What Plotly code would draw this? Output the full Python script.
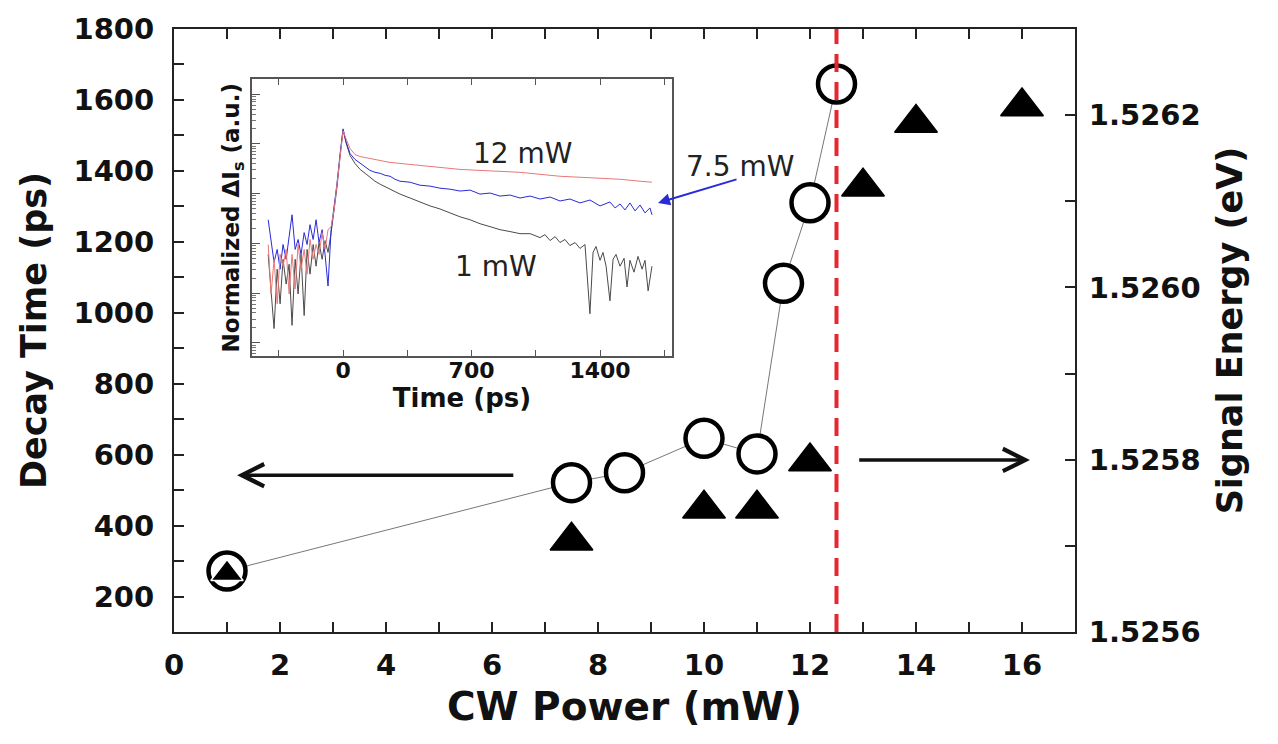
import plotly.graph_objects as go

# ---------------- main data ----------------
POWER_DECAY = [1, 7.5, 8.5, 10, 11, 11.5, 12, 12.5]            # mW
DECAY_TIME = [272, 521, 549, 646, 602, 1083, 1310, 1645]         # ps
POWER_ENERGY = [1, 7.5, 10, 11, 12, 13, 14, 16]                  # mW
SIGNAL_ENERGY = [1.525668, 1.525706, 1.525743, 1.525743,
                 1.525798, 1.526117, 1.526191, 1.526210]         # eV
THRESHOLD_MW = 12.5

X_TICKS = [0, 2, 4, 6, 8, 10, 12, 14, 16]
Y_TICKS = [200, 400, 600, 800, 1000, 1200, 1400, 1600, 1800]
Y2_TICKS = [1.5256, 1.5258, 1.5260, 1.5262]
Y2_TICKTEXT = ["1.5256", "1.5258", "1.5260", "1.5262"]

# ---------------- inset data (normalized ΔIs, a.u.) ----------------
T_PRE = [-408, -392, -376, -359, -343, -327, -310, -294, -278, -261, -245, -229, -212,
         -196, -180, -163, -147, -131, -114, -98, -82, -65, -49, -33, -16, 0]
RED_PRE = [9.51e-4, 9.65e-5, 4.79e-4, 6.10e-5, 6.01e-4, 3.48e-4, 7.57e-4, 9.65e-5, 6.01e-4,
           1.21e-4, 9.51e-4, 3.03e-4, 7.57e-4, 2.41e-4, 1.20e-3, 4.79e-4, 9.51e-4, 6.01e-4,
           1.65e-3, 7.57e-4, 1.89e-3, 2.17e-3, 4.72e-3, 1.48e-2, 5.85e-2, 0.184]
BLUE_PRE = [2.99e-3, 1.20e-3, 4.17e-4, 7.57e-4, 3.03e-4, 9.51e-4, 4.79e-4, 1.37e-3, 3.76e-3,
            7.57e-4, 1.20e-3, 6.01e-4, 1.65e-3, 9.51e-4, 2.38e-3, 1.20e-3, 2.99e-3, 1.04e-3,
            1.89e-3, 6.01e-4, 1.39e-4, 1.89e-3, 5.17e-3, 1.62e-2, 6.41e-2, 0.201]
BLACK_PRE = [6.01e-4, 9.65e-5, 1.94e-5, 3.03e-4, 6.10e-5, 4.79e-4, 1.52e-4, 3.81e-4, 2.25e-5,
             4.79e-4, 9.65e-5, 6.01e-4, 3.54e-5, 7.57e-4, 2.41e-4, 9.51e-4, 3.48e-4, 1.04e-3,
             4.79e-4, 1.14e-3, 6.59e-4, 1.65e-3, 4.51e-3, 1.35e-2, 5.85e-2, 0.192]

T_RED_POST = [16, 38, 65, 93, 147, 202, 256, 310, 419, 528, 637, 746, 855, 964, 1073,
              1182, 1291, 1400, 1509, 1618, 1683]
RED_POST = [0.1274, 0.0806, 0.0612, 0.0559, 0.0510, 0.0466, 0.0425, 0.0406, 0.0371, 0.0338,
            0.0308, 0.0294, 0.0281, 0.0269, 0.0245, 0.0224, 0.0214, 0.0204, 0.0195, 0.0178,
            0.0170]

T_BLUE_POST = [16, 38, 65, 93, 120, 147, 174, 202, 229, 256, 283, 310, 365, 419, 474, 528,
               583, 637, 692, 746, 801, 855, 910, 964, 1019, 1073, 1128, 1182, 1236, 1291,
               1345, 1400, 1454, 1482, 1509, 1536, 1563, 1591, 1618, 1645, 1672, 1683]
BLUE_POST = [0.1112, 0.0641, 0.0488, 0.0406, 0.0338, 0.0294, 0.0269, 0.0257, 0.0234, 0.0224,
             0.0195, 0.0178, 0.0170, 0.0148, 0.0142, 0.0129, 0.0123, 0.0113, 0.0118, 0.00982,
             0.0103, 0.00896, 0.00938, 0.00818, 0.00896, 0.00781, 0.00856, 0.00713, 0.00781,
             0.00651, 0.00746, 0.00567, 0.00681, 0.00517, 0.00621, 0.00472, 0.00651, 0.00451,
             0.00593, 0.00411, 0.00517, 0.00376]

T_BLACK_POST = [16, 38, 65, 93, 120, 147, 174, 202, 256, 310, 365, 419, 474, 528, 583, 637,
                692, 746, 801, 855, 910, 964, 1019, 1073, 1100, 1128, 1155, 1182, 1209, 1236,
                1264, 1291, 1318, 1345, 1362, 1378, 1400, 1416, 1433, 1454, 1471, 1487, 1509,
                1531, 1547, 1563, 1585, 1607, 1629, 1645, 1662, 1683]
BLACK_POST = [0.1057, 0.0585, 0.0406, 0.0308, 0.0257, 0.0214, 0.0178, 0.0155, 0.0123, 0.00982,
              0.00818, 0.00681, 0.00567, 0.00493, 0.00411, 0.00343, 0.00299, 0.00249, 0.00217,
              0.00189, 0.00173, 0.00157, 0.00157, 0.00131, 0.00150, 0.00114, 0.00137, 0.00104,
              0.00120, 0.000906, 0.00104, 0.000792, 0.000951, 3.86e-5, 0.000659, 0.000868,
              0.000457, 0.000659, 0.000348, 7.00e-5, 0.000479, 0.000601, 0.000348, 0.000502,
              0.000133, 0.000457, 0.000264, 0.000549, 0.000303, 0.000457, 0.000111, 0.000348]

INSET_X_TICKS = [-350, 0, 350, 700, 1050, 1400, 1750]
INSET_X_TICKTEXT = ["", "0", "", "700", "", "1400", ""]

# ---------------- styling ----------------
BOLD = dict(family="DejaVu Sans, Liberation Sans, sans-serif", weight="bold", color="#111")
AXCOL = "#222"

fig = go.Figure()

# decay time (circles, left axis)
fig.add_trace(go.Scatter(
    x=POWER_DECAY, y=DECAY_TIME, mode="lines+markers", xaxis="x", yaxis="y",
    line=dict(color="#777", width=1),
    marker=dict(symbol="circle", size=37, color="white", opacity=1,
                line=dict(color="black", width=4.5)),
    showlegend=False))

# signal energy (triangles, right axis)
fig.add_trace(go.Scatter(
    x=POWER_ENERGY, y=SIGNAL_ENERGY, mode="markers", xaxis="x", yaxis="y2",
    marker=dict(symbol="triangle-up", size=[28, 37, 37, 37, 37, 37, 37, 37], color="black",
                opacity=1, line=dict(color=["white"] + ["black"] * 7, width=1.5)),
    showlegend=False))

# inset curves
fig.add_trace(go.Scatter(x=T_PRE + T_BLACK_POST, y=BLACK_PRE + BLACK_POST, mode="lines",
                         xaxis="x3", yaxis="y3", line=dict(color="#4a4a4a", width=1),
                         showlegend=False))
fig.add_trace(go.Scatter(x=T_PRE + T_BLUE_POST, y=BLUE_PRE + BLUE_POST, mode="lines",
                         xaxis="x3", yaxis="y3", line=dict(color="#2a2ad8", width=1),
                         showlegend=False))
fig.add_trace(go.Scatter(x=T_PRE + T_RED_POST, y=RED_PRE + RED_POST, mode="lines",
                         xaxis="x3", yaxis="y3", line=dict(color="#e87878", width=1),
                         showlegend=False))

# threshold dashed line
fig.add_shape(type="line", xref="x", yref="paper", x0=THRESHOLD_MW, x1=THRESHOLD_MW,
              y0=0, y1=1, line=dict(color="#e8262e", width=4, dash="18px,10px"))

# arrows pointing to the axes
fig.add_annotation(xref="x", yref="y", axref="x", ayref="y", x=1.19, y=542, ax=6.43, ay=542,
                   text="", showarrow=True, arrowhead=5, arrowsize=1.25, arrowwidth=3.5,
                   arrowcolor="#111")
fig.add_annotation(xref="x", yref="y", axref="x", ayref="y", x=16.15, y=585, ax=12.9, ay=585,
                   text="", showarrow=True, arrowhead=5, arrowsize=1.25, arrowwidth=3.5,
                   arrowcolor="#111")

# inset labels
LBL = dict(family="DejaVu Sans, sans-serif", size=28, color="#222")
fig.add_annotation(xref="paper", yref="paper", x=0.3873, y=0.8240, text="12 mW",
                   showarrow=False, font=LBL)
fig.add_annotation(xref="paper", yref="paper", x=0.3097, y=0.6066, text="1 mW",
                   showarrow=False, font=LBL)
fig.add_annotation(xref="paper", yref="paper", x=0.5660, y=0.8020, text="7.5 mW",
                   showarrow=False, font=LBL, xanchor="left")
fig.add_annotation(xref="paper", yref="paper", x=0.5372, y=0.7115, ax=80, ay=-24, text="",
                   showarrow=True, arrowhead=2, arrowsize=1.2, arrowwidth=2,
                   arrowcolor="#2a2ad8")

fig.update_layout(
    width=1278, height=744,
    margin=dict(l=174, r=203, t=22, b=112),
    paper_bgcolor="white", plot_bgcolor="white",
    xaxis=dict(range=[0, 17], tickvals=X_TICKS, ticks="inside", ticklen=10, tickwidth=2,
               tickcolor=AXCOL, minor=dict(dtick=1, ticks="inside", ticklen=10, tickwidth=2,
                                           tickcolor=AXCOL),
               showline=True, linewidth=2, linecolor=AXCOL, mirror="ticks", showgrid=False,
               zeroline=False, tickfont=dict(BOLD, size=29), ticklabelstandoff=6,
               title=dict(text="CW Power (mW)", font=dict(BOLD, size=39), standoff=12)),
    yaxis=dict(range=[100, 1800], tickvals=Y_TICKS, ticks="inside", ticklen=10, tickwidth=2,
               tickcolor=AXCOL, minor=dict(dtick=100, tick0=100, ticks="inside", ticklen=10,
                                           tickwidth=2, tickcolor=AXCOL),
               showline=True, linewidth=2, linecolor=AXCOL, showgrid=False, zeroline=False,
               tickfont=dict(BOLD, size=29), ticklabelstandoff=12,
               title=dict(text="Decay Time (ps)", font=dict(BOLD, size=35), standoff=16)),
    yaxis2=dict(range=[1.5256, 1.5263], overlaying="y", side="right", anchor="x",
                tickvals=Y2_TICKS, ticktext=Y2_TICKTEXT, ticks="inside", ticklen=10,
                tickwidth=2, tickcolor=AXCOL,
                minor=dict(dtick=0.0001, tick0=1.5256, ticks="inside", ticklen=10,
                           tickwidth=2, tickcolor=AXCOL),
                showline=True, linewidth=2, linecolor=AXCOL, showgrid=False, zeroline=False,
                tickfont=dict(BOLD, size=29), ticklabelstandoff=6,
                title=dict(text="Signal Energy (eV)", font=dict(BOLD, size=35), standoff=18)),
    xaxis3=dict(domain=[0.0866, 0.5527], anchor="y3", range=[-496, 1792],
                tickvals=INSET_X_TICKS, ticktext=INSET_X_TICKTEXT, ticks="inside", ticklen=6,
                tickcolor="#555", showline=True, linewidth=1.5, linecolor="#555",
                mirror="ticks", showgrid=False, zeroline=False,
                tickfont=dict(BOLD, size=22), ticklabelstandoff=-6,
                title=dict(text="Time (ps)", font=dict(BOLD, size=26), standoff=0)),
    yaxis3=dict(domain=[0.4574, 0.9164], anchor="x3", type="log", range=[-5.268, 0.298],
                dtick=1, ticks="inside", ticklen=8, tickcolor="#555", showticklabels=False,
                minor=dict(ticks="inside", ticklen=4, tickcolor="#777"),
                showline=True, linewidth=1.5, linecolor="#555", mirror=True, showgrid=False,
                zeroline=False,
                title=dict(text="Normalized ΔI<sub>s</sub> (a.u.)", font=dict(BOLD, size=23),
                           standoff=4)),
)

fig.write_html("out.html")
